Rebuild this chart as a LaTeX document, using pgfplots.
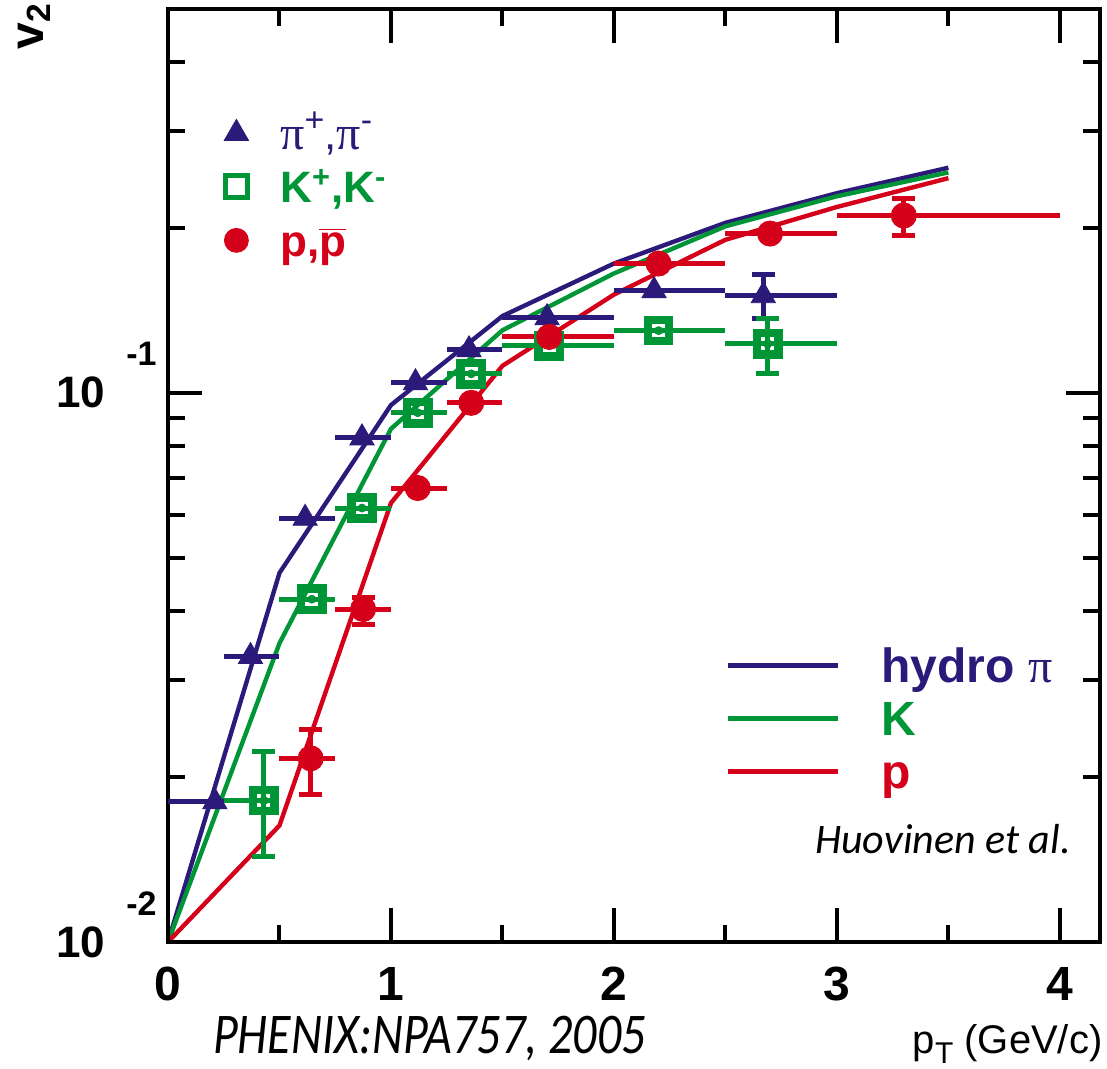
\documentclass[border=0pt]{standalone}
\usepackage{fontspec}
\usepackage{graphicx}
\usepackage{pgfplots}
\pgfplotsset{compat=1.18}
\usepackage{pgfplotstable}
\setmainfont{Liberation Sans}
\newfontfamily\lserif{Liberation Serif}
\newfontfamily\calibri{Carlito}
\definecolor{pblue}{RGB}{44,26,122}
\definecolor{pgreen}{RGB}{0,150,55}
\definecolor{pred}{RGB}{213,0,25}

% x, y, x error minus, x error plus
\pgfplotstableread{
x y exm exp
0.21 0.0180 0.21 0.04
0.37 0.0331 0.12 0.13
0.615 0.0591 0.115 0.135
0.87 0.0828 0.12 0.13
1.11 0.1043 0.11 0.14
1.35 0.1198 0.10 0.15
1.70 0.1370 0.20 0.30
2.18 0.1535 0.18 0.32
2.67 0.1503 0.17 0.33
}\pions
\pgfplotstableread{
x y exm exp
0.43 0.0181 0.18 0.07
0.645 0.0421 0.145 0.105
0.87 0.0617 0.12 0.13
1.12 0.0920 0.12 0.13
1.36 0.1083 0.11 0.14
1.71 0.1218 0.21 0.29
2.20 0.1298 0.20 0.30
2.69 0.1228 0.19 0.31
}\kaons
\pgfplotstableread{
x y exm exp
0.64 0.0216 0.14 0.11
0.875 0.0404 0.125 0.125
1.12 0.0671 0.12 0.13
1.36 0.0959 0.11 0.14
1.71 0.1265 0.21 0.29
2.20 0.1720 0.20 0.30
2.70 0.1950 0.20 0.30
3.30 0.2103 0.30 0.70
}\protons
% y errors: x, y, y error minus, y error plus
\pgfplotstableread{
x y eym eyp
2.67 0.1503 0.0138 0.0137
}\pionsy
\pgfplotstableread{
x y eym eyp
0.43 0.0181 0.0038 0.0041
2.69 0.1228 0.0145 0.0137
}\kaonsy
\pgfplotstableread{
x y eym eyp
0.64 0.0216 0.0030 0.0028
0.875 0.0404 0.0025 0.0020
3.30 0.2103 0.0169 0.0156
}\protonsy

\begin{document}
\begin{tikzpicture}
\path[use as bounding box] (-84pt,-63.5pt) rectangle (469.5pt,471pt);

% hydro curves
\begin{axis}[at={(0pt,0pt)}, anchor=south west, scale only axis,
  width=466pt, height=466.5pt, xmin=0, xmax=4.18, ymin=0.01, ymax=0.5,
  ymode=log, hide axis,
  legend style={draw=none, fill=none, at={(0.5976,0.3253)}, anchor=north west,
    inner sep=0pt, row sep=0pt, column sep=0pt,
    font=\fontsize{24}{24}\selectfont\bfseries,
    nodes={inner sep=0pt, text height=21.85pt, text depth=4.65pt},
    cells={anchor=west}},
  legend image code/.code={\draw[#1] (0pt,0pt) -- (55pt,0pt); \path[draw=none,fill=none] (0pt,0pt) -- (77pt,0pt);},
]
\addplot[pblue, line width=2.2pt] coordinates {(0,0.01) (0.5,0.047) (1.0,0.095) (1.5,0.138) (2.0,0.172) (2.5,0.204) (3.0,0.231) (3.5,0.257)};
\addlegendentry{\textcolor{pblue}{hydro {\lserif\mdseries π}}}
\addplot[pgreen, line width=2.2pt] coordinates {(0,0.01) (0.5,0.035) (1.0,0.086) (1.5,0.130) (2.0,0.165) (2.5,0.201) (3.0,0.228) (3.5,0.252)};
\addlegendentry{\textcolor{pgreen}{K}}
\addplot[pred, line width=2.2pt] coordinates {(0,0.01) (0.5,0.0163) (1.0,0.063) (1.5,0.112) (2.0,0.151) (2.5,0.190) (3.0,0.218) (3.5,0.246)};
\addlegendentry{\textcolor{pred}{p}}
\end{axis}

% data
\begin{axis}[at={(0pt,0pt)}, anchor=south west, scale only axis,
  width=466pt, height=466.5pt, xmin=0, xmax=4.18, ymin=0.01, ymax=0.5,
  ymode=log, clip mode=individual,
  axis line style={line width=2pt},
  tick style={line width=2pt, black},
  major tick length=17pt, minor tick length=8.5pt,
  xtick={0,1,2,3,4}, xticklabels={0,1,2,3,4},
  minor xtick={0.5,1.5,2.5,3.5},
  ytick={0.01,0.1},
  yticklabels={{10\hspace{10.5pt}\raisebox{21pt}[0pt][0pt]{\fontsize{17}{17}\selectfont -2}},
                {10\hspace{10.5pt}\raisebox{21pt}[0pt][0pt]{\fontsize{17}{17}\selectfont -1}}},
  minor ytick={0.02,0.03,0.04,0.05,0.06,0.07,0.08,0.09,0.2,0.3,0.4},
  xticklabel style={font=\fontsize{24}{24}\selectfont\bfseries, inner sep=0pt, yshift=-12.5pt},
  yticklabel style={font=\fontsize{22}{22}\selectfont\bfseries, inner sep=0pt, xshift=-5.5pt},
  legend style={draw=none, fill=none, at={(0.0515,0.8958)}, anchor=north west,
    inner sep=0pt, row sep=0pt, column sep=0pt,
    font=\fontsize{22}{22}\selectfont,
    nodes={inner sep=0pt, text height=21.3pt, text depth=5.45pt},
    cells={anchor=west}},
  legend image code/.code={\path[draw=none,fill=none] (-10pt,0pt) -- (22pt,0pt); \draw[#1] plot coordinates {(0pt,0pt)};},
]
% x error bars
\addplot[pblue, forget plot, only marks, mark=none, error bars/.cd, x dir=both, x explicit, error mark=none, error bar style={line width=2.5pt}]
  table[x=x, y=y, x error minus=exm, x error plus=exp] {\pions};
\addplot[pgreen, forget plot, only marks, mark=none, error bars/.cd, x dir=both, x explicit, error mark=none, error bar style={line width=2.5pt}]
  table[x=x, y=y, x error minus=exm, x error plus=exp] {\kaons};
\addplot[pred, forget plot, only marks, mark=none, error bars/.cd, x dir=both, x explicit, error mark=none, error bar style={line width=2.5pt}]
  table[x=x, y=y, x error minus=exm, x error plus=exp] {\protons};
% y error bars
\addplot[pblue, forget plot, only marks, mark=none, error bars/.cd, y dir=both, y explicit, error bar style={line width=2.5pt}, error mark options={rotate=90, line width=2.5pt, mark size=5.75pt}]
  table[x=x, y=y, y error minus=eym, y error plus=eyp] {\pionsy};
\addplot[pgreen, forget plot, only marks, mark=none, error bars/.cd, y dir=both, y explicit, error bar style={line width=2.5pt}, error mark options={rotate=90, line width=2.5pt, mark size=5.75pt}]
  table[x=x, y=y, y error minus=eym, y error plus=eyp] {\kaonsy};
\addplot[pred, forget plot, only marks, mark=none, error bars/.cd, y dir=both, y explicit, error bar style={line width=2.5pt}, error mark options={rotate=90, line width=2.5pt, mark size=5.75pt}]
  table[x=x, y=y, y error minus=eym, y error plus=eyp] {\protonsy};
% markers
\addplot[pblue, forget plot, only marks, mark=triangle*, mark size=7pt, mark options={fill=pblue}] table[x=x, y=y] {\pions};
\addplot[pgreen, forget plot, only marks, mark=square, mark size=5.3pt, mark options={line width=4.2pt}] table[x=x, y=y] {\kaons};
\addplot[pred, forget plot, only marks, mark=*, mark size=6.3pt, mark options={fill=pred}] table[x=x, y=y] {\protons};

\addlegendimage{pblue, only marks, mark=triangle*, mark size=7pt, fill=pblue}
\addlegendentry{\textcolor{pblue}{{\fontsize{24}{24}\selectfont\lserif π}\raisebox{9pt}{\fontsize{17}{17}\selectfont +},{\fontsize{24}{24}\selectfont\lserif π}\raisebox{9pt}{\fontsize{17}{17}\selectfont -}}}
\addlegendimage{pgreen, only marks, mark=square, mark size=5.5pt, line width=2.5pt}
\addlegendentry{\textcolor{pgreen}{\textbf{K\textsuperscript{+},K\textsuperscript{-}}}}
\addlegendimage{pred, only marks, mark=*, mark size=6pt, fill=pred}
\addlegendentry{\textcolor{pred}{\textbf{p,$\overline{\hbox{\textbf{p}}}$}}}

\node[rotate=90, anchor=base west, font=\fontsize{24}{24}\selectfont\bfseries, inner sep=0pt]
  at (rel axis cs:-0.134,0.956) {v\textsubscript{2}};
\node[anchor=base east, font=\fontsize{20}{20}\selectfont, inner sep=0pt]
  at (rel axis cs:1.003,-0.119) {p\raisebox{-5pt}{\fontsize{15}{15}\selectfont T} (GeV/c)};
\node[anchor=base west, font=\fontsize{24}{24}\selectfont\calibri\itshape, inner sep=0pt]
  at (rel axis cs:0.048,-0.119) {\scalebox{1}[1.2]{PHENIX:NPA757, 2005}};
\node[anchor=base west, font=\fontsize{21}{21}\selectfont\calibri\itshape, inner sep=0pt]
  at (rel axis cs:0.694,0.0954) {Huovinen et al.};
\end{axis}
\end{tikzpicture}
\end{document}
